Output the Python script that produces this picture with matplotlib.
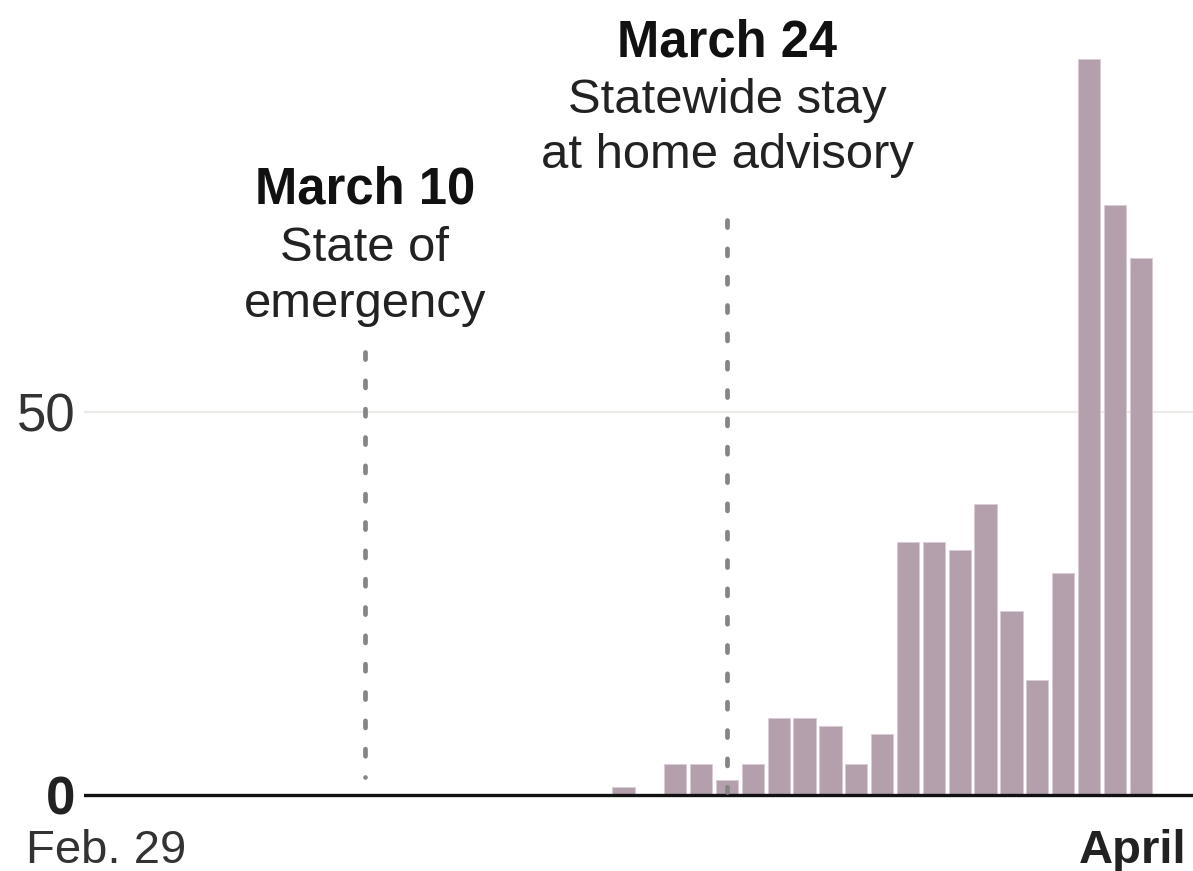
import matplotlib
matplotlib.use("Agg")
import matplotlib.pyplot as plt
import matplotlib.transforms as mtransforms
import pandas as pd

# ---- data ----
dates = pd.date_range("2020-02-29", "2020-04-09", freq="D")
values = [0, 0, 0, 0, 0, 0, 0, 0, 0, 0,
          0, 0, 0, 0, 0, 0, 0, 0, 0, 0,
          1, 0, 4, 4, 2, 4, 10, 10, 9, 4,
          8, 33, 33, 32, 38, 24, 15, 29, 96, 77, 70]
events = ["2020-03-10", "2020-03-24"]
event_titles = ["March 10", "March 24"]
event_lines = [["State of", "emergency"], ["Statewide stay", "at home advisory"]]
ytick_vals = [0, 50]
ytick_labels = ["0", "50"]
xlabel_left = "Feb. 29"
xlabel_right = "April"

start = dates[0]
days = [(d - start).days for d in dates]
event_days = [(pd.Timestamp(e) - start).days for e in events]

plt.rcParams["font.family"] = ["Liberation Sans", "DejaVu Sans"]

W, H = 1193, 871
fig = plt.figure(figsize=(W / 100, H / 100), dpi=100)
ax = fig.add_axes([84 / W, 0, (W - 84) / W, 1])

BAR = "#b4a0ad"
ax.bar(days, values, width=0.86, color=BAR, edgecolor="#d9ccd4", linewidth=0.6, zorder=2)

ax.set_xlim(-0.866, 42.02)
ax.set_ylim(-9.9, 103.7)

for s in ax.spines.values():
    s.set_visible(False)
ax.axhline(0, color="#111111", lw=2.4, zorder=4)
ax.axhline(50, color="#ebebe6", lw=1.6, zorder=0)

ax.set_xticks([])
ax.set_yticks(ytick_vals)
ax.set_yticklabels(ytick_labels)
ax.tick_params(axis="y", length=0, pad=6, labelsize=38, labelcolor="#333333")
for lbl in ax.get_yticklabels():
    if lbl.get_text() == "0":
        lbl.set_fontweight("bold")
        lbl.set_color("#222222")

# event dashed lines (drawn from top down so the top starts with a dash)
line_ranges = [(57.8, 2.4), (75.0, 0.4)]
for d, (y0, y1) in zip(event_days, line_ranges):
    ax.plot([d, d], [y0, y1], color="#858585", lw=3.4,
            linestyle=(0, (1.5, 4.5)), dash_capstyle="round", zorder=5)

# annotations
title_y = [77.1, 96.3]
first_y = [69.6, 89.0]
second_y = [62.3, 81.8]
for d, t, lines, ty, y1, y2 in zip(event_days, event_titles, event_lines, title_y, first_y, second_y):
    ax.text(d, ty, t, ha="center", va="baseline", fontsize=36.5, fontweight="bold", color="#111111")
    ax.text(d, y1, lines[0], ha="center", va="baseline", fontsize=35.3, color="#222222")
    ax.text(d, y2, lines[1], ha="center", va="baseline", fontsize=35.3, color="#222222")

# x labels
ax.text(days[0], -8.8, xlabel_left, ha="center", va="baseline", fontsize=34, color="#333333")
trans = mtransforms.blended_transform_factory(ax.transAxes, ax.transData)
ax.text(0.9937, -8.8, xlabel_right, transform=trans, ha="right", va="baseline",
        fontsize=34, fontweight="bold", color="#222222")

fig.savefig("out.png", dpi=100, facecolor="white")
